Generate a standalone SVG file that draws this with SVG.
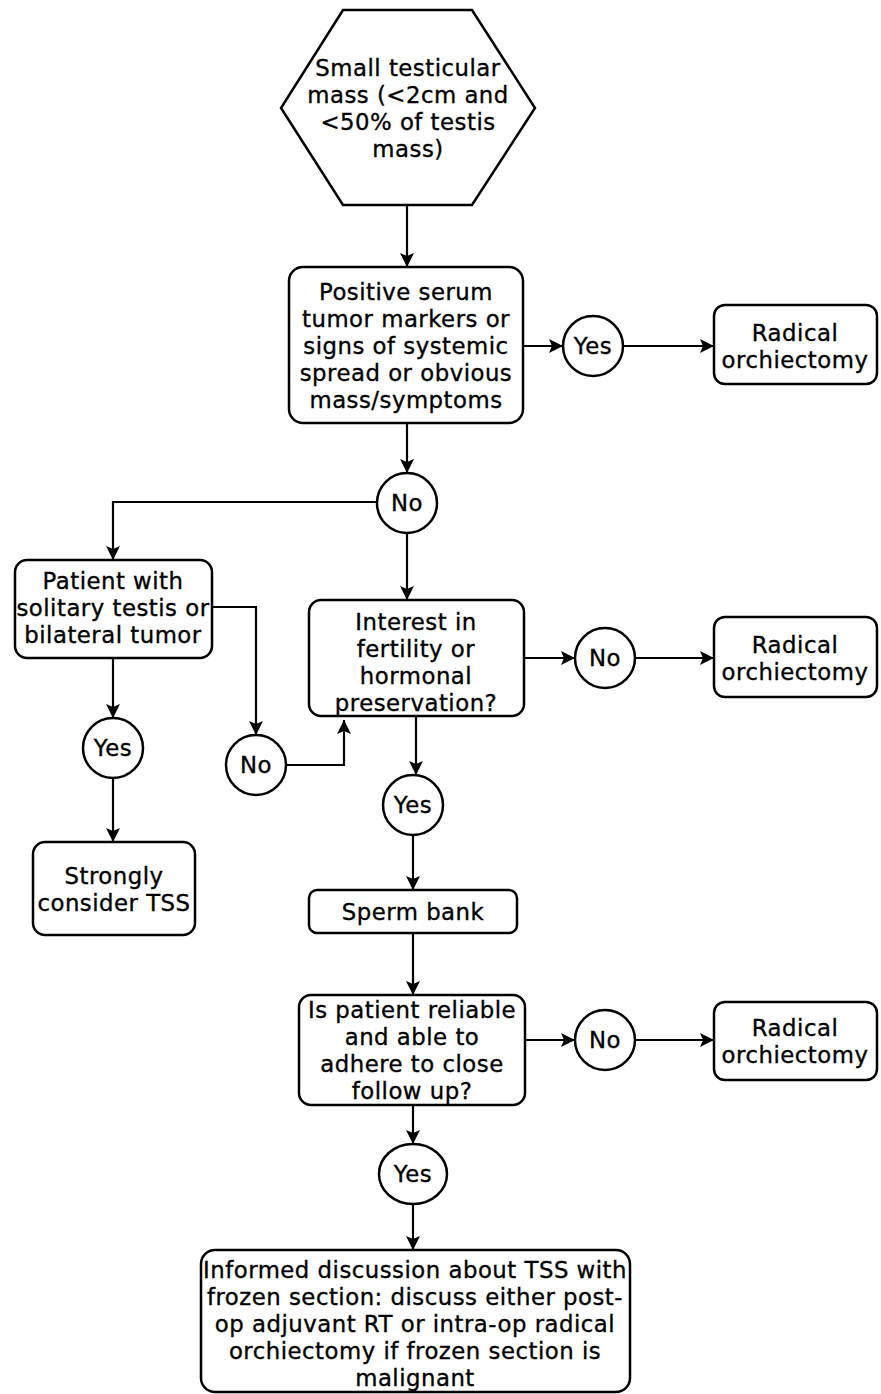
<svg xmlns="http://www.w3.org/2000/svg" width="881" height="1394" viewBox="0 0 881 1394">
<style>
.n{fill:#fff;stroke:#000;stroke-width:2.5}
.t{font-family:"DejaVu Sans",Verdana,sans-serif;font-size:22.8px;letter-spacing:0.5px;text-anchor:middle;fill:#000;stroke:#000;stroke-width:0.35px}
.c{fill:none;stroke:#000;stroke-width:2.2;marker-end:url(#ah)}
</style>
<defs>
<marker id="ah" markerWidth="14" markerHeight="14" refX="14" refY="7" orient="auto" markerUnits="userSpaceOnUse">
<path d="M0,0 L14,7 L0,14 L3,7 z" fill="#000"/>
</marker>
</defs>
<rect width="881" height="1394" fill="#fff"/>
<g id="connectors">
<path class="c" d="M407,205 V267"/>
<path class="c" d="M523,346 H563"/>
<path class="c" d="M623,346 H714"/>
<path class="c" d="M407,423 V473"/>
<path class="c" d="M377,502 H113 V560"/>
<path class="c" d="M407,533 V600"/>
<path class="c" d="M212,607 H256 V735"/>
<path class="c" d="M286,765 H344 V720"/>
<path class="c" d="M113,658 V718"/>
<path class="c" d="M113,778 V842"/>
<path class="c" d="M524,658 H575"/>
<path class="c" d="M635,658 H714"/>
<path class="c" d="M416,716 V775"/>
<path class="c" d="M413,835 V890"/>
<path class="c" d="M413,932 V995"/>
<path class="c" d="M525,1040 H575"/>
<path class="c" d="M635,1040 H714"/>
<path class="c" d="M413,1105 V1144"/>
<path class="c" d="M413,1204 V1250"/>
</g>
<g id="start">
<polygon class="n" points="343,10 472,10 535,108 472,205 343,205 281,108"/>
<text class="t" x="408" y="76">Small testicular</text>
<text class="t" x="408" y="103">mass (&lt;2cm and</text>
<text class="t" x="408" y="130">&lt;50% of testis</text>
<text class="t" x="408" y="157">mass)</text>
</g>
<g id="q1">
<rect class="n" x="289" y="267" width="234" height="156" rx="14"/>
<text class="t" x="406" y="300">Positive serum</text>
<text class="t" x="406" y="327">tumor markers or</text>
<text class="t" x="406" y="354">signs of systemic</text>
<text class="t" x="406" y="381">spread or obvious</text>
<text class="t" x="406" y="408">mass/symptoms</text>
</g>
<g id="yes1">
<circle class="n" cx="593" cy="346" r="30"/>
<text class="t" x="593" y="354">Yes</text>
</g>
<g id="radical1">
<rect class="n" x="714" y="305" width="163" height="79" rx="11"/>
<text class="t" x="795" y="341">Radical</text>
<text class="t" x="795" y="368">orchiectomy</text>
</g>
<g id="no1">
<circle class="n" cx="407" cy="503" r="30"/>
<text class="t" x="407" y="511">No</text>
</g>
<g id="patient">
<rect class="n" x="15" y="560" width="197" height="98" rx="12"/>
<text class="t" x="113" y="589">Patient with</text>
<text class="t" x="113" y="616">solitary testis or</text>
<text class="t" x="113" y="643">bilateral tumor</text>
</g>
<g id="yes2">
<circle class="n" cx="113" cy="748" r="30"/>
<text class="t" x="113" y="756">Yes</text>
</g>
<g id="strongly">
<rect class="n" x="33" y="842" width="162" height="93" rx="12"/>
<text class="t" x="114" y="884">Strongly</text>
<text class="t" x="114" y="911">consider TSS</text>
</g>
<g id="no2">
<circle class="n" cx="256" cy="765" r="30"/>
<text class="t" x="256" y="773">No</text>
</g>
<g id="interest">
<rect class="n" x="309" y="600" width="215" height="116" rx="12"/>
<text class="t" x="416" y="630">Interest in</text>
<text class="t" x="416" y="657">fertility or</text>
<text class="t" x="416" y="684">hormonal</text>
<text class="t" x="416" y="711">preservation?</text>
</g>
<g id="no3">
<circle class="n" cx="605" cy="658" r="30"/>
<text class="t" x="605" y="666">No</text>
</g>
<g id="radical2">
<rect class="n" x="714" y="617" width="163" height="80" rx="11"/>
<text class="t" x="795" y="653">Radical</text>
<text class="t" x="795" y="680">orchiectomy</text>
</g>
<g id="yes3">
<circle class="n" cx="413" cy="805" r="30"/>
<text class="t" x="413" y="813">Yes</text>
</g>
<g id="sperm">
<rect class="n" x="309" y="890" width="208" height="43" rx="8"/>
<text class="t" x="413" y="920">Sperm bank</text>
</g>
<g id="reliable">
<rect class="n" x="299" y="995" width="226" height="110" rx="12"/>
<text class="t" x="412" y="1018">Is patient reliable</text>
<text class="t" x="412" y="1045">and able to</text>
<text class="t" x="412" y="1072">adhere to close</text>
<text class="t" x="412" y="1099">follow up?</text>
</g>
<g id="no4">
<circle class="n" cx="605" cy="1040" r="30"/>
<text class="t" x="605" y="1048">No</text>
</g>
<g id="radical3">
<rect class="n" x="714" y="1002" width="163" height="78" rx="11"/>
<text class="t" x="795" y="1036">Radical</text>
<text class="t" x="795" y="1063">orchiectomy</text>
</g>
<g id="yes4">
<ellipse class="n" cx="413" cy="1174" rx="34" ry="30"/>
<text class="t" x="413" y="1182">Yes</text>
</g>
<g id="informed">
<rect class="n" x="201" y="1250" width="429" height="142" rx="14"/>
<text class="t" x="415" y="1278">Informed discussion about TSS with</text>
<text class="t" x="415" y="1305">frozen section: discuss either post-</text>
<text class="t" x="415" y="1332">op adjuvant RT or intra-op radical</text>
<text class="t" x="415" y="1359">orchiectomy if frozen section is</text>
<text class="t" x="415" y="1386">malignant</text>
</g>
</svg>
